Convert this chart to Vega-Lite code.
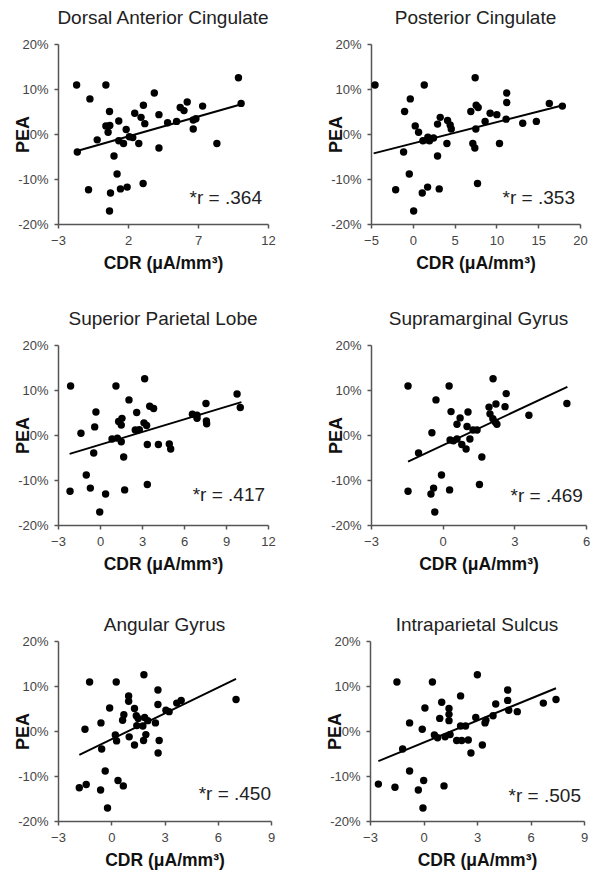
{
  "$schema": "https://vega.github.io/schema/vega-lite/v6.json",
  "padding": {"left": 14, "top": 9, "right": 3, "bottom": 3},
  "background": "white",
  "datasets": {
    "points": [
      {"region":"DAC","cdr":-1.67,"pea":10.9},{"region":"DAC","cdr":-0.72,"pea":7.8},{"region":"DAC","cdr":0.42,"pea":10.9},{"region":"DAC","cdr":0.68,"pea":5.0},{"region":"DAC","cdr":0.42,"pea":1.8},{"region":"DAC","cdr":0.70,"pea":1.9},{"region":"DAC","cdr":0.58,"pea":0.4},{"region":"DAC","cdr":-0.2,"pea":-1.3},{"region":"DAC","cdr":1.34,"pea":2.9},{"region":"DAC","cdr":1.87,"pea":1.0},{"region":"DAC","cdr":1.34,"pea":-1.5},{"region":"DAC","cdr":1.68,"pea":-2.1},{"region":"DAC","cdr":2.1,"pea":-0.6},{"region":"DAC","cdr":2.34,"pea":-0.8},{"region":"DAC","cdr":2.77,"pea":-2.1},{"region":"DAC","cdr":-1.62,"pea":-4.0},{"region":"DAC","cdr":1.0,"pea":-4.9},{"region":"DAC","cdr":1.22,"pea":-8.9},{"region":"DAC","cdr":-0.82,"pea":-12.4},{"region":"DAC","cdr":0.75,"pea":-13.1},{"region":"DAC","cdr":1.46,"pea":-12.2},{"region":"DAC","cdr":1.94,"pea":-11.8},{"region":"DAC","cdr":3.08,"pea":-11.0},{"region":"DAC","cdr":0.68,"pea":-17.1},{"region":"DAC","cdr":2.48,"pea":4.6},{"region":"DAC","cdr":2.93,"pea":3.7},{"region":"DAC","cdr":3.10,"pea":6.4},{"region":"DAC","cdr":3.2,"pea":2.3},{"region":"DAC","cdr":3.88,"pea":9.1},{"region":"DAC","cdr":4.21,"pea":4.3},{"region":"DAC","cdr":4.21,"pea":-3.1},{"region":"DAC","cdr":4.83,"pea":2.5},{"region":"DAC","cdr":5.47,"pea":2.8},{"region":"DAC","cdr":5.73,"pea":5.9},{"region":"DAC","cdr":6.0,"pea":5.2},{"region":"DAC","cdr":6.23,"pea":7.1},{"region":"DAC","cdr":6.66,"pea":3.1},{"region":"DAC","cdr":6.85,"pea":3.4},{"region":"DAC","cdr":6.66,"pea":1.1},{"region":"DAC","cdr":7.33,"pea":6.2},{"region":"DAC","cdr":8.35,"pea":-2.1},{"region":"DAC","cdr":9.89,"pea":12.5},{"region":"DAC","cdr":10.08,"pea":6.8},
      {"region":"PC","cdr":-4.52,"pea":10.9},{"region":"PC","cdr":-0.3,"pea":7.8},{"region":"PC","cdr":-0.98,"pea":5.0},{"region":"PC","cdr":1.37,"pea":10.9},{"region":"PC","cdr":0.29,"pea":1.8},{"region":"PC","cdr":0.69,"pea":0.4},{"region":"PC","cdr":-1.1,"pea":-4.0},{"region":"PC","cdr":1.21,"pea":-1.5},{"region":"PC","cdr":1.69,"pea":-1.3},{"region":"PC","cdr":1.8,"pea":-0.7},{"region":"PC","cdr":2.0,"pea":-1.5},{"region":"PC","cdr":2.48,"pea":-0.9},{"region":"PC","cdr":2.96,"pea":2.2},{"region":"PC","cdr":3.28,"pea":3.7},{"region":"PC","cdr":4.16,"pea":3.0},{"region":"PC","cdr":4.47,"pea":2.0},{"region":"PC","cdr":4.6,"pea":1.1},{"region":"PC","cdr":4.08,"pea":-2.1},{"region":"PC","cdr":2.96,"pea":-4.9},{"region":"PC","cdr":-0.42,"pea":-8.9},{"region":"PC","cdr":-2.05,"pea":-12.4},{"region":"PC","cdr":1.13,"pea":-13.1},{"region":"PC","cdr":1.77,"pea":-11.8},{"region":"PC","cdr":3.16,"pea":-12.2},{"region":"PC","cdr":0.1,"pea":-17.1},{"region":"PC","cdr":7.46,"pea":12.5},{"region":"PC","cdr":6.94,"pea":5.0},{"region":"PC","cdr":7.58,"pea":6.4},{"region":"PC","cdr":7.82,"pea":5.9},{"region":"PC","cdr":7.54,"pea":1.1},{"region":"PC","cdr":7.18,"pea":-2.1},{"region":"PC","cdr":7.42,"pea":-3.1},{"region":"PC","cdr":7.74,"pea":-11.0},{"region":"PC","cdr":8.65,"pea":2.8},{"region":"PC","cdr":9.25,"pea":4.6},{"region":"PC","cdr":10.05,"pea":4.3},{"region":"PC","cdr":10.37,"pea":-2.1},{"region":"PC","cdr":11.16,"pea":3.3},{"region":"PC","cdr":11.24,"pea":9.1},{"region":"PC","cdr":11.24,"pea":7.0},{"region":"PC","cdr":13.15,"pea":2.4},{"region":"PC","cdr":14.78,"pea":2.8},{"region":"PC","cdr":16.33,"pea":6.8},{"region":"PC","cdr":17.89,"pea":6.2},
      {"region":"SPL","cdr":-2.1,"pea":10.9},{"region":"SPL","cdr":-2.14,"pea":-12.5},{"region":"SPL","cdr":-1.36,"pea":0.4},{"region":"SPL","cdr":-0.98,"pea":-8.9},{"region":"SPL","cdr":-0.69,"pea":-11.8},{"region":"SPL","cdr":-0.45,"pea":-4.0},{"region":"SPL","cdr":-0.38,"pea":1.8},{"region":"SPL","cdr":-0.29,"pea":5.1},{"region":"SPL","cdr":-0.02,"pea":-17.1},{"region":"SPL","cdr":0.4,"pea":-13.1},{"region":"SPL","cdr":0.86,"pea":-0.9},{"region":"SPL","cdr":1.14,"pea":10.9},{"region":"SPL","cdr":1.24,"pea":-0.7},{"region":"SPL","cdr":1.33,"pea":3.0},{"region":"SPL","cdr":1.52,"pea":2.2},{"region":"SPL","cdr":1.57,"pea":3.7},{"region":"SPL","cdr":1.52,"pea":-1.5},{"region":"SPL","cdr":1.69,"pea":-4.9},{"region":"SPL","cdr":1.76,"pea":-12.2},{"region":"SPL","cdr":2.07,"pea":7.8},{"region":"SPL","cdr":2.62,"pea":5.0},{"region":"SPL","cdr":2.52,"pea":1.1},{"region":"SPL","cdr":2.81,"pea":1.2},{"region":"SPL","cdr":3.14,"pea":2.7},{"region":"SPL","cdr":3.19,"pea":12.5},{"region":"SPL","cdr":3.33,"pea":2.1},{"region":"SPL","cdr":3.38,"pea":-2.1},{"region":"SPL","cdr":3.38,"pea":-11.0},{"region":"SPL","cdr":3.55,"pea":6.4},{"region":"SPL","cdr":3.83,"pea":5.9},{"region":"SPL","cdr":4.17,"pea":-2.1},{"region":"SPL","cdr":4.95,"pea":-2.0},{"region":"SPL","cdr":5.05,"pea":-3.1},{"region":"SPL","cdr":6.6,"pea":4.6},{"region":"SPL","cdr":6.93,"pea":3.7},{"region":"SPL","cdr":6.93,"pea":4.4},{"region":"SPL","cdr":7.57,"pea":7.0},{"region":"SPL","cdr":7.6,"pea":3.1},{"region":"SPL","cdr":7.62,"pea":2.5},{"region":"SPL","cdr":9.79,"pea":9.1},{"region":"SPL","cdr":10.02,"pea":6.1},
      {"region":"SMG","cdr":-1.45,"pea":10.9},{"region":"SMG","cdr":-1.45,"pea":-12.5},{"region":"SMG","cdr":-1.01,"pea":-4.0},{"region":"SMG","cdr":-0.45,"pea":0.5},{"region":"SMG","cdr":-0.49,"pea":-13.1},{"region":"SMG","cdr":-0.38,"pea":-11.8},{"region":"SMG","cdr":-0.33,"pea":-17.1},{"region":"SMG","cdr":-0.28,"pea":7.8},{"region":"SMG","cdr":-0.05,"pea":-8.9},{"region":"SMG","cdr":0.27,"pea":10.9},{"region":"SMG","cdr":0.29,"pea":-12.2},{"region":"SMG","cdr":0.35,"pea":5.2},{"region":"SMG","cdr":0.31,"pea":-1.1},{"region":"SMG","cdr":0.6,"pea":-0.9},{"region":"SMG","cdr":0.45,"pea":-1.3},{"region":"SMG","cdr":0.6,"pea":2.4},{"region":"SMG","cdr":0.73,"pea":3.8},{"region":"SMG","cdr":0.8,"pea":-2.1},{"region":"SMG","cdr":1.02,"pea":1.9},{"region":"SMG","cdr":0.98,"pea":-3.1},{"region":"SMG","cdr":1.06,"pea":5.1},{"region":"SMG","cdr":1.14,"pea":-0.9},{"region":"SMG","cdr":1.27,"pea":1.1},{"region":"SMG","cdr":1.44,"pea":1.1},{"region":"SMG","cdr":1.64,"pea":-4.9},{"region":"SMG","cdr":1.54,"pea":-11.0},{"region":"SMG","cdr":1.94,"pea":6.2},{"region":"SMG","cdr":2.11,"pea":12.5},{"region":"SMG","cdr":1.98,"pea":4.7},{"region":"SMG","cdr":2.1,"pea":3.6},{"region":"SMG","cdr":2.27,"pea":2.4},{"region":"SMG","cdr":2.23,"pea":6.9},{"region":"SMG","cdr":2.2,"pea":2.9},{"region":"SMG","cdr":2.61,"pea":6.3},{"region":"SMG","cdr":2.66,"pea":9.2},{"region":"SMG","cdr":3.61,"pea":4.4},{"region":"SMG","cdr":5.2,"pea":7.0},
      {"region":"AG","cdr":-1.8,"pea":-12.6},{"region":"AG","cdr":-1.41,"pea":-11.9},{"region":"AG","cdr":-1.48,"pea":0.4},{"region":"AG","cdr":-1.22,"pea":10.9},{"region":"AG","cdr":-0.58,"pea":1.8},{"region":"AG","cdr":-0.54,"pea":-4.0},{"region":"AG","cdr":-0.6,"pea":-13.1},{"region":"AG","cdr":-0.34,"pea":-8.9},{"region":"AG","cdr":-0.21,"pea":-17.1},{"region":"AG","cdr":-0.09,"pea":5.1},{"region":"AG","cdr":0.28,"pea":10.9},{"region":"AG","cdr":0.23,"pea":-0.9},{"region":"AG","cdr":0.3,"pea":-2.2},{"region":"AG","cdr":0.38,"pea":-11.0},{"region":"AG","cdr":0.68,"pea":-12.2},{"region":"AG","cdr":0.64,"pea":2.4},{"region":"AG","cdr":0.71,"pea":3.6},{"region":"AG","cdr":0.98,"pea":7.8},{"region":"AG","cdr":0.98,"pea":6.6},{"region":"AG","cdr":1.01,"pea":-1.3},{"region":"AG","cdr":1.31,"pea":5.0},{"region":"AG","cdr":1.31,"pea":-3.1},{"region":"AG","cdr":1.41,"pea":3.4},{"region":"AG","cdr":1.52,"pea":2.8},{"region":"AG","cdr":1.44,"pea":1.2},{"region":"AG","cdr":1.78,"pea":1.1},{"region":"AG","cdr":1.84,"pea":12.5},{"region":"AG","cdr":1.88,"pea":3.0},{"region":"AG","cdr":1.82,"pea":-2.1},{"region":"AG","cdr":1.95,"pea":-0.8},{"region":"AG","cdr":2.06,"pea":2.3},{"region":"AG","cdr":2.49,"pea":1.8},{"region":"AG","cdr":2.63,"pea":9.1},{"region":"AG","cdr":2.63,"pea":5.9},{"region":"AG","cdr":2.7,"pea":-2.1},{"region":"AG","cdr":2.64,"pea":-4.9},{"region":"AG","cdr":3.08,"pea":4.6},{"region":"AG","cdr":3.26,"pea":4.3},{"region":"AG","cdr":3.69,"pea":6.2},{"region":"AG","cdr":3.94,"pea":6.8},{"region":"AG","cdr":7.03,"pea":7.0},
      {"region":"IPS","cdr":-2.53,"pea":-11.8},{"region":"IPS","cdr":-1.6,"pea":-12.5},{"region":"IPS","cdr":-1.49,"pea":10.9},{"region":"IPS","cdr":-1.17,"pea":-4.0},{"region":"IPS","cdr":-0.78,"pea":1.8},{"region":"IPS","cdr":-0.78,"pea":-8.9},{"region":"IPS","cdr":-0.29,"pea":-13.1},{"region":"IPS","cdr":-0.07,"pea":0.4},{"region":"IPS","cdr":0.01,"pea":-11.0},{"region":"IPS","cdr":-0.03,"pea":-17.1},{"region":"IPS","cdr":0.08,"pea":5.1},{"region":"IPS","cdr":0.5,"pea":10.9},{"region":"IPS","cdr":0.61,"pea":-0.9},{"region":"IPS","cdr":0.79,"pea":-1.5},{"region":"IPS","cdr":0.91,"pea":2.8},{"region":"IPS","cdr":1.02,"pea":6.4},{"region":"IPS","cdr":1.15,"pea":-12.2},{"region":"IPS","cdr":1.21,"pea":-1.3},{"region":"IPS","cdr":1.43,"pea":5.0},{"region":"IPS","cdr":1.43,"pea":3.7},{"region":"IPS","cdr":1.43,"pea":2.3},{"region":"IPS","cdr":1.49,"pea":-0.8},{"region":"IPS","cdr":1.86,"pea":-2.1},{"region":"IPS","cdr":2.08,"pea":7.8},{"region":"IPS","cdr":2.08,"pea":1.1},{"region":"IPS","cdr":2.14,"pea":-2.1},{"region":"IPS","cdr":2.36,"pea":1.1},{"region":"IPS","cdr":2.51,"pea":-2.0},{"region":"IPS","cdr":2.66,"pea":-4.9},{"region":"IPS","cdr":2.93,"pea":3.0},{"region":"IPS","cdr":3.02,"pea":12.5},{"region":"IPS","cdr":3.3,"pea":-3.1},{"region":"IPS","cdr":3.45,"pea":1.8},{"region":"IPS","cdr":3.5,"pea":2.4},{"region":"IPS","cdr":3.9,"pea":3.4},{"region":"IPS","cdr":4.05,"pea":6.0},{"region":"IPS","cdr":4.72,"pea":9.1},{"region":"IPS","cdr":4.72,"pea":6.8},{"region":"IPS","cdr":4.78,"pea":4.6},{"region":"IPS","cdr":5.26,"pea":4.3},{"region":"IPS","cdr":6.72,"pea":6.2},{"region":"IPS","cdr":7.43,"pea":7.0}
    ],
    "fits": [
      {"region":"DAC","cdr":-1.77,"pea":-3.9},{"region":"DAC","cdr":10.1,"pea":6.6},
      {"region":"PC","cdr":-4.68,"pea":-4.3},{"region":"PC","cdr":18.2,"pea":6.5},
      {"region":"SPL","cdr":-2.17,"pea":-4.2},{"region":"SPL","cdr":10.1,"pea":7.3},
      {"region":"SMG","cdr":-1.45,"pea":-5.9},{"region":"SMG","cdr":5.22,"pea":10.7},
      {"region":"AG","cdr":-1.8,"pea":-5.3},{"region":"AG","cdr":7.03,"pea":11.6},
      {"region":"IPS","cdr":-2.53,"pea":-6.7},{"region":"IPS","cdr":7.43,"pea":9.5}
    ],
    "notes": [
      {"region":"DAC","cdr":11.57,"pea":-15.6,"label":"*r = .364"},
      {"region":"PC","cdr":19.4,"pea":-15.6,"label":"*r = .353"},
      {"region":"SPL","cdr":11.79,"pea":-14.7,"label":"*r = .417"},
      {"region":"SMG","cdr":5.87,"pea":-14.9,"label":"*r = .469"},
      {"region":"AG","cdr":9.0,"pea":-15.3,"label":"*r = .450"},
      {"region":"IPS","cdr":8.83,"pea":-15.8,"label":"*r = .505"}
    ]
  },
  "config": {
    "font": "Liberation Sans",
    "view": {"stroke": null},
    "axis": {"grid": false, "domainColor": "#555", "domainWidth": 1.5, "tickColor": "#555", "tickSize": 4, "tickWidth": 1.5, "labelFont": "Liberation Sans", "labelFontSize": 13, "labelColor": "#444", "labelPadding": 6, "labelFlush": false, "labelOverlap": false, "titleFont": "Liberation Sans", "titleFontWeight": "bold", "titleColor": "#111"},
    "axisX": {"titleFontSize": 17.5, "titlePadding": 7},
    "axisY": {"titleFontSize": 18, "titleX": -26},
    "title": {"font": "Liberation Sans", "fontSize": 19, "fontWeight": "normal", "color": "#222", "anchor": "middle", "frame": "group", "baseline": "alphabetic"}
  },
  "spacing": 38,
  "vconcat": [
    {"spacing": 51, "hconcat": [
      {"width": 210, "height": 180, "title": {"text": "Dorsal Anterior Cingulate", "offset": 10},
       "encoding": {"x": {"field": "cdr", "type": "quantitative", "title": "CDR (μA/mm³)", "scale": {"domain": [-3, 12], "nice": false, "zero": false}, "axis": {"values": [-3, 2, 7, 12]}},
                    "y": {"field": "pea", "type": "quantitative", "title": "PEA", "scale": {"domain": [-20, 20], "nice": false, "zero": false}, "axis": {"values": [-20, -10, 0, 10, 20], "labelExpr": "datum.value + '%'"}}},
       "layer": [
         {"data": {"name": "points"}, "transform": [{"filter": "datum.region === 'DAC'"}], "mark": {"type": "circle", "size": 55, "color": "#000", "opacity": 1}},
         {"data": {"name": "fits"}, "transform": [{"filter": "datum.region === 'DAC'"}], "mark": {"type": "line", "color": "#000", "strokeWidth": 2}},
         {"data": {"name": "notes"}, "transform": [{"filter": "datum.region === 'DAC'"}], "mark": {"type": "text", "align": "right", "baseline": "alphabetic", "fontSize": 19, "color": "#222"}, "encoding": {"text": {"field": "label"}}}
       ]},
      {"width": 209, "height": 180, "title": {"text": "Posterior Cingulate", "offset": 10},
       "encoding": {"x": {"field": "cdr", "type": "quantitative", "title": "CDR (μA/mm³)", "scale": {"domain": [-5, 20], "nice": false, "zero": false}, "axis": {"values": [-5, 0, 5, 10, 15, 20]}},
                    "y": {"field": "pea", "type": "quantitative", "title": "PEA", "scale": {"domain": [-20, 20], "nice": false, "zero": false}, "axis": {"values": [-20, -10, 0, 10, 20], "labelExpr": "datum.value + '%'"}}},
       "layer": [
         {"data": {"name": "points"}, "transform": [{"filter": "datum.region === 'PC'"}], "mark": {"type": "circle", "size": 55, "color": "#000", "opacity": 1}},
         {"data": {"name": "fits"}, "transform": [{"filter": "datum.region === 'PC'"}], "mark": {"type": "line", "color": "#000", "strokeWidth": 2}},
         {"data": {"name": "notes"}, "transform": [{"filter": "datum.region === 'PC'"}], "mark": {"type": "text", "align": "right", "baseline": "alphabetic", "fontSize": 19, "color": "#222"}, "encoding": {"text": {"field": "label"}}}
       ]}
    ]},
    {"spacing": 43, "vconcat": [
    {"spacing": 51, "hconcat": [
      {"width": 210, "height": 180, "title": {"text": "Superior Parietal Lobe", "offset": 10},
       "encoding": {"x": {"field": "cdr", "type": "quantitative", "title": "CDR (μA/mm³)", "scale": {"domain": [-3, 12], "nice": false, "zero": false}, "axis": {"values": [-3, 0, 3, 6, 9, 12]}},
                    "y": {"field": "pea", "type": "quantitative", "title": "PEA", "scale": {"domain": [-20, 20], "nice": false, "zero": false}, "axis": {"values": [-20, -10, 0, 10, 20], "labelExpr": "datum.value + '%'"}}},
       "layer": [
         {"data": {"name": "points"}, "transform": [{"filter": "datum.region === 'SPL'"}], "mark": {"type": "circle", "size": 55, "color": "#000", "opacity": 1}},
         {"data": {"name": "fits"}, "transform": [{"filter": "datum.region === 'SPL'"}], "mark": {"type": "line", "color": "#000", "strokeWidth": 2}},
         {"data": {"name": "notes"}, "transform": [{"filter": "datum.region === 'SPL'"}], "mark": {"type": "text", "align": "right", "baseline": "alphabetic", "fontSize": 19, "color": "#222"}, "encoding": {"text": {"field": "label"}}}
       ]},
      {"width": 215, "height": 180, "title": {"text": "Supramarginal Gyrus", "offset": 10},
       "encoding": {"x": {"field": "cdr", "type": "quantitative", "title": "CDR (μA/mm³)", "scale": {"domain": [-3, 6], "nice": false, "zero": false}, "axis": {"values": [-3, 0, 3, 6]}},
                    "y": {"field": "pea", "type": "quantitative", "title": "PEA", "scale": {"domain": [-20, 20], "nice": false, "zero": false}, "axis": {"values": [-20, -10, 0, 10, 20], "labelExpr": "datum.value + '%'"}}},
       "layer": [
         {"data": {"name": "points"}, "transform": [{"filter": "datum.region === 'SMG'"}], "mark": {"type": "circle", "size": 55, "color": "#000", "opacity": 1}},
         {"data": {"name": "fits"}, "transform": [{"filter": "datum.region === 'SMG'"}], "mark": {"type": "line", "color": "#000", "strokeWidth": 2}},
         {"data": {"name": "notes"}, "transform": [{"filter": "datum.region === 'SMG'"}], "mark": {"type": "text", "align": "right", "baseline": "alphabetic", "fontSize": 19, "color": "#222"}, "encoding": {"text": {"field": "label"}}}
       ]}
    ]},
    {"spacing": 51, "hconcat": [
      {"width": 213, "height": 180, "title": {"text": "Angular Gyrus", "offset": 0},
       "encoding": {"x": {"field": "cdr", "type": "quantitative", "title": "CDR (μA/mm³)", "scale": {"domain": [-3, 9], "nice": false, "zero": false}, "axis": {"values": [-3, 0, 3, 6, 9]}},
                    "y": {"field": "pea", "type": "quantitative", "title": "PEA", "scale": {"domain": [-20, 20], "nice": false, "zero": false}, "axis": {"values": [-20, -10, 0, 10, 20], "labelExpr": "datum.value + '%'"}}},
       "layer": [
         {"data": {"name": "points"}, "transform": [{"filter": "datum.region === 'AG'"}], "mark": {"type": "circle", "size": 55, "color": "#000", "opacity": 1}},
         {"data": {"name": "fits"}, "transform": [{"filter": "datum.region === 'AG'"}], "mark": {"type": "line", "color": "#000", "strokeWidth": 2}},
         {"data": {"name": "notes"}, "transform": [{"filter": "datum.region === 'AG'"}], "mark": {"type": "text", "align": "right", "baseline": "alphabetic", "fontSize": 19, "color": "#222"}, "encoding": {"text": {"field": "label"}}}
       ]},
      {"width": 214, "height": 180, "title": {"text": "Intraparietal Sulcus", "offset": 0},
       "encoding": {"x": {"field": "cdr", "type": "quantitative", "title": "CDR (μA/mm³)", "scale": {"domain": [-3, 9], "nice": false, "zero": false}, "axis": {"values": [-3, 0, 3, 6, 9]}},
                    "y": {"field": "pea", "type": "quantitative", "title": "PEA", "scale": {"domain": [-20, 20], "nice": false, "zero": false}, "axis": {"values": [-20, -10, 0, 10, 20], "labelExpr": "datum.value + '%'"}}},
       "layer": [
         {"data": {"name": "points"}, "transform": [{"filter": "datum.region === 'IPS'"}], "mark": {"type": "circle", "size": 55, "color": "#000", "opacity": 1}},
         {"data": {"name": "fits"}, "transform": [{"filter": "datum.region === 'IPS'"}], "mark": {"type": "line", "color": "#000", "strokeWidth": 2}},
         {"data": {"name": "notes"}, "transform": [{"filter": "datum.region === 'IPS'"}], "mark": {"type": "text", "align": "right", "baseline": "alphabetic", "fontSize": 19, "color": "#222"}, "encoding": {"text": {"field": "label"}}}
       ]}
    ]}
    ]}
  ]
}
